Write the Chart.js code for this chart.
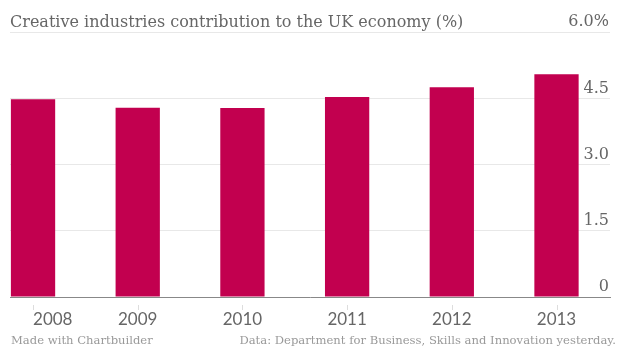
<!DOCTYPE html>
<html>
<head>
<meta charset="utf-8">
<script src="https://cdn.jsdelivr.net/npm/chart.js@4"></script>
<style>
  body { margin: 0; background: #fff; }
  #grafico { display: block; }
</style>
</head>
<body>
<canvas id="grafico" width="620" height="349"></canvas>
<script>
// valores do grafico
var anos = [2008, 2009, 2010, 2011, 2012, 2013];
var contribuicao = [4.48, 4.29, 4.28, 4.53, 4.75, 5.05];
var marcasY = [0, 1.5, 3, 4.5, 6];

var titulo = 'Creative industries contribution to the UK economy (%)';
var rodapeEsq = 'Made with Chartbuilder';
var rodapeDir = 'Data: Department for Business, Skills and Innovation yesterday.';

var cinza = '#666666';
var fonteSerif = '"DejaVu Serif", serif';

// anos no eixo x, marquinhas e rodape
var rotulosX = {
    id: 'rotulosX',
    afterDraw: function (chart) {
        var ctx = chart.ctx;
        var x = chart.scales.x;
        var area = chart.chartArea;
        ctx.save();

        ctx.strokeStyle = '#dddddd';
        ctx.lineWidth = 1;
        anos.forEach(function (a) {
            var px = Math.round(x.getPixelForValue(a)) + 0.5;
            ctx.beginPath();
            ctx.moveTo(px, area.bottom + 8);
            ctx.lineTo(px, area.bottom + 13);
            ctx.stroke();
        });

        ctx.font = '17px Lato, sans-serif';
        ctx.fillStyle = cinza;
        ctx.textBaseline = 'alphabetic';
        anos.forEach(function (a, i) {
            var px = x.getPixelForValue(a);
            ctx.textAlign = i === 0 ? 'left' : 'center';
            ctx.fillText(String(a), px, area.bottom + 28);
        });

        ctx.font = '11.6px ' + fonteSerif;
        ctx.fillStyle = '#999999';
        ctx.textAlign = 'left';
        ctx.fillText(rodapeEsq, 11, 344);
        ctx.textAlign = 'right';
        ctx.fillText(rodapeDir, 616, 344);
        ctx.restore();
    }
};

var graf = document.getElementById('grafico').getContext('2d');

var grafico = new Chart(graf, {
    type: 'bar',
    data: {
        datasets: [{
            label: 'Contribution',
            data: anos.map(function (a, i) { return { x: a, y: contribuicao[i] }; }),
            backgroundColor: '#c2004f',
            borderWidth: 0,
            barPercentage: 0.423,
            categoryPercentage: 1
        }]
    },
    options: {
        responsive: false,
        animation: false,
        layout: {
            padding: { left: 10, right: 10, top: 0, bottom: 52 }
        },
        plugins: {
            legend: { display: false },
            tooltip: { enabled: false },
            title: {
                display: true,
                text: titulo,
                align: 'start',
                color: cinza,
                font: { family: fonteSerif, size: 16, weight: 'normal', lineHeight: 1.2 },
                padding: { top: 13, bottom: 0 }
            }
        },
        scales: {
            x: {
                type: 'linear',
                offset: false,
                min: 2007.78,
                max: 2013.511,
                ticks: { display: false },
                grid: { display: true, offset: false, drawOnChartArea: false, drawTicks: false },
                border: { display: true, color: '#888888', width: 1, z: 1 },
                afterFit: function (s) { s.height = 0; }
            },
            y: {
                position: 'right',
                min: 0,
                max: 6,
                afterBuildTicks: function (s) {
                    s.ticks = marcasY.map(function (v) { return { value: v }; });
                },
                ticks: {
                    mirror: true,
                    padding: -1,
                    labelOffset: -10,
                    color: cinza,
                    font: { family: fonteSerif, size: 16 },
                    callback: function (v) {
                        if (v === 0) return '0';
                        if (v === 6) return '6.0%';
                        return v.toFixed(1);
                    }
                },
                grid: { color: '#e8e8e8', drawTicks: false },
                border: { display: false },
                afterFit: function (s) { s.width = 0; }
            }
        }
    },
    plugins: [rotulosX]
});
</script>
</body>
</html>
